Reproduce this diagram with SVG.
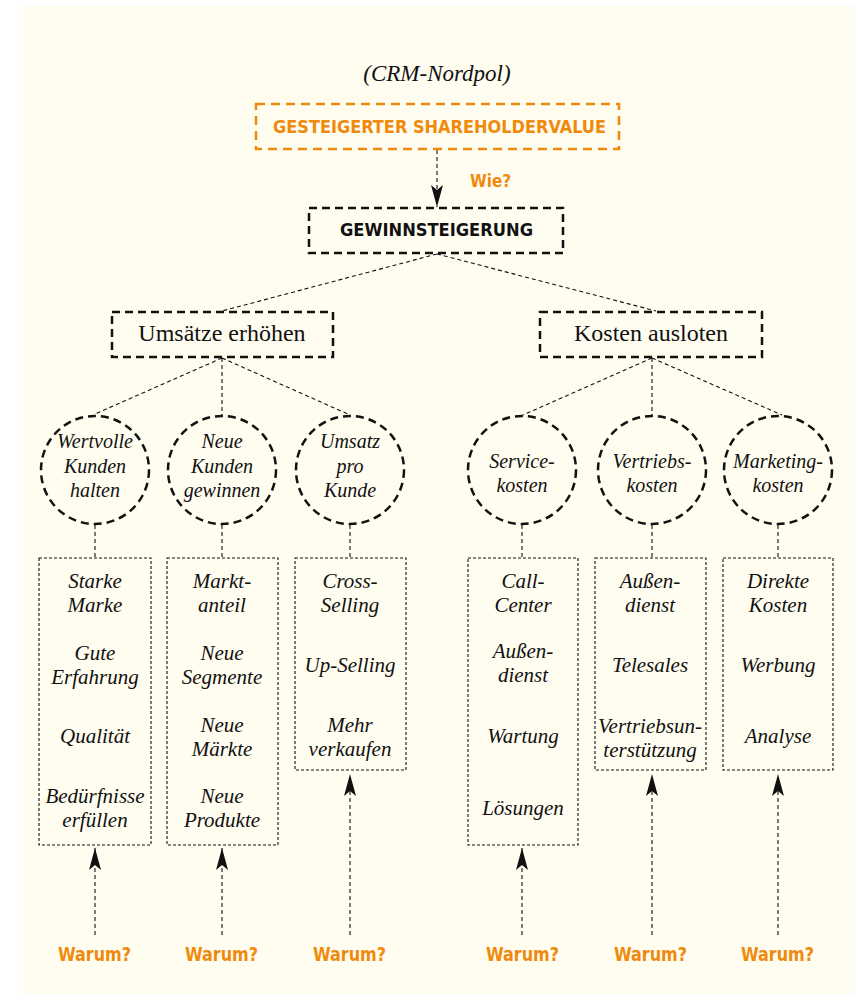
<svg xmlns="http://www.w3.org/2000/svg" width="855" height="996" viewBox="0 0 855 996">
<style>
.bg{fill:#FFFDF0}
.thick{fill:none;stroke:#111;stroke-width:2.5;stroke-dasharray:8 5}
.orange{fill:none;stroke:#F08A0C;stroke-width:2.5;stroke-dasharray:9 6}
.thin{fill:none;stroke:#111;stroke-width:1.1;stroke-dasharray:3 2}
.con{fill:none;stroke:#111;stroke-width:1.1;stroke-dasharray:4 3}
.cond{font-family:"Liberation Sans Narrow","DejaVu Sans Condensed","Roboto",sans-serif;font-weight:bold}
.serif{font-family:"Liberation Serif","DejaVu Serif",serif;fill:#111}
.it{font-family:"Liberation Serif","DejaVu Serif",serif;font-style:italic;font-size:21px;fill:#111;text-anchor:middle}
.ci{font-size:20px}
.or{fill:#F08A0C}
</style>
<defs>
<marker id="ah" markerUnits="userSpaceOnUse" viewBox="0 0 22 12" refX="22" refY="6" markerWidth="22" markerHeight="12" orient="auto">
<path d="M0,0 L22,6 L0,12 L5,6 z" fill="#111"/>
</marker>
</defs>
<rect class="bg" x="23" y="6" width="832" height="988"/>
<text class="serif" x="437" y="81" font-size="23" font-style="italic" text-anchor="middle">(CRM-Nordpol)</text>

<g id="connectors">
<line class="con" x1="437" y1="150" x2="437" y2="207" marker-end="url(#ah)"/>
<line class="con" x1="437" y1="254" x2="222" y2="311"/>
<line class="con" x1="437" y1="254" x2="656" y2="311"/>
<line class="con" x1="222" y1="358" x2="95" y2="414"/>
<line class="con" x1="222" y1="358" x2="222" y2="416"/>
<line class="con" x1="222" y1="358" x2="350" y2="415"/>
<line class="con" x1="652" y1="358" x2="523" y2="415"/>
<line class="con" x1="652" y1="358" x2="652" y2="416"/>
<line class="con" x1="652" y1="358" x2="782" y2="415"/>
<line class="con" x1="95" y1="525" x2="95" y2="558"/>
<line class="con" x1="222" y1="525" x2="222" y2="558"/>
<line class="con" x1="350" y1="525" x2="350" y2="558"/>
<line class="con" x1="522" y1="525" x2="522" y2="558"/>
<line class="con" x1="652" y1="525" x2="652" y2="558"/>
<line class="con" x1="778" y1="525" x2="778" y2="558"/>
<line class="con" x1="95" y1="935" x2="95" y2="848" marker-end="url(#ah)"/>
<line class="con" x1="222" y1="935" x2="222" y2="848" marker-end="url(#ah)"/>
<line class="con" x1="350" y1="935" x2="350" y2="774" marker-end="url(#ah)"/>
<line class="con" x1="522" y1="935" x2="522" y2="848" marker-end="url(#ah)"/>
<line class="con" x1="652" y1="935" x2="652" y2="774" marker-end="url(#ah)"/>
<line class="con" x1="778" y1="935" x2="778" y2="774" marker-end="url(#ah)"/>
</g>

<g id="shareholder">
<rect class="orange" x="256" y="104" width="363" height="45"/>
<text class="cond or" x="273" y="133" font-size="18" textLength="333" lengthAdjust="spacingAndGlyphs">GESTEIGERTER SHAREHOLDERVALUE</text>
</g>
<g id="wie"><text class="cond or" x="470" y="187" font-size="18" textLength="41" lengthAdjust="spacingAndGlyphs">Wie?</text></g>

<g id="gewinn">
<rect class="thick" x="309" y="208" width="254" height="45"/>
<text class="cond" x="340" y="236" font-size="18" fill="#111" textLength="193" lengthAdjust="spacingAndGlyphs">GEWINNSTEIGERUNG</text>
</g>

<g id="umsaetze">
<rect class="thick" x="112" y="312" width="221" height="45"/>
<text class="serif" x="222" y="341" font-size="24" text-anchor="middle">Umsätze erhöhen</text>
</g>
<g id="kosten">
<rect class="thick" x="540" y="312" width="222" height="45"/>
<text class="serif" x="651" y="341" font-size="24" text-anchor="middle">Kosten ausloten</text>
</g>

<g id="c1"><circle class="thick" cx="95" cy="470" r="54"/>
<text class="it ci" x="95" y="448">Wertvolle</text><text class="it ci" x="95" y="473">Kunden</text><text class="it ci" x="95" y="497">halten</text></g>
<g id="c2"><circle class="thick" cx="222" cy="470" r="54"/>
<text class="it ci" x="222" y="448">Neue</text><text class="it ci" x="222" y="473">Kunden</text><text class="it ci" x="222" y="497">gewinnen</text></g>
<g id="c3"><circle class="thick" cx="350" cy="470" r="54"/>
<text class="it ci" x="350" y="448">Umsatz</text><text class="it ci" x="350" y="473">pro</text><text class="it ci" x="350" y="497">Kunde</text></g>
<g id="c4"><circle class="thick" cx="522" cy="470" r="54"/>
<text class="it ci" x="522" y="468">Service-</text><text class="it ci" x="522" y="492">kosten</text></g>
<g id="c5"><circle class="thick" cx="652" cy="470" r="54"/>
<text class="it ci" x="652" y="468">Vertriebs-</text><text class="it ci" x="652" y="492">kosten</text></g>
<g id="c6"><circle class="thick" cx="778" cy="470" r="54"/>
<text class="it ci" x="778" y="468">Marketing-</text><text class="it ci" x="778" y="492">kosten</text></g>

<g id="b1"><rect class="thin" x="39" y="558" width="112" height="287"/>
<text class="it" x="95" y="588">Starke</text><text class="it" x="95" y="612">Marke</text>
<text class="it" x="95" y="660">Gute</text><text class="it" x="95" y="684">Erfahrung</text>
<text class="it" x="95" y="743">Qualität</text>
<text class="it" x="95" y="803">Bedürfnisse</text><text class="it" x="95" y="827">erfüllen</text></g>
<g id="b2"><rect class="thin" x="167" y="558" width="111" height="287"/>
<text class="it" x="222" y="588">Markt-</text><text class="it" x="222" y="612">anteil</text>
<text class="it" x="222" y="660">Neue</text><text class="it" x="222" y="684">Segmente</text>
<text class="it" x="222" y="732">Neue</text><text class="it" x="222" y="756">Märkte</text>
<text class="it" x="222" y="803">Neue</text><text class="it" x="222" y="827">Produkte</text></g>
<g id="b3"><rect class="thin" x="295" y="558" width="111" height="212"/>
<text class="it" x="350" y="588">Cross-</text><text class="it" x="350" y="612">Selling</text>
<text class="it" x="350" y="672">Up-Selling</text>
<text class="it" x="350" y="732">Mehr</text><text class="it" x="350" y="756">verkaufen</text></g>
<g id="b4"><rect class="thin" x="468" y="558" width="110" height="287"/>
<text class="it" x="523" y="588">Call-</text><text class="it" x="523" y="612">Center</text>
<text class="it" x="523" y="658">Außen-</text><text class="it" x="523" y="682">dienst</text>
<text class="it" x="523" y="743">Wartung</text>
<text class="it" x="523" y="815">Lösungen</text></g>
<g id="b5"><rect class="thin" x="595" y="558" width="111" height="212"/>
<text class="it" x="650" y="588">Außen-</text><text class="it" x="650" y="612">dienst</text>
<text class="it" x="650" y="672">Telesales</text>
<text class="it" x="650" y="733">Vertriebsun-</text><text class="it" x="650" y="757">terstützung</text></g>
<g id="b6"><rect class="thin" x="723" y="558" width="110" height="212"/>
<text class="it" x="778" y="588">Direkte</text><text class="it" x="778" y="612">Kosten</text>
<text class="it" x="778" y="672">Werbung</text>
<text class="it" x="778" y="743">Analyse</text></g>

<g id="warum" class="cond or" font-size="19">
<text x="58" y="961" textLength="73" lengthAdjust="spacingAndGlyphs">Warum?</text>
<text x="185" y="961" textLength="73" lengthAdjust="spacingAndGlyphs">Warum?</text>
<text x="313" y="961" textLength="73" lengthAdjust="spacingAndGlyphs">Warum?</text>
<text x="486" y="961" textLength="73" lengthAdjust="spacingAndGlyphs">Warum?</text>
<text x="614" y="961" textLength="73" lengthAdjust="spacingAndGlyphs">Warum?</text>
<text x="741" y="961" textLength="73" lengthAdjust="spacingAndGlyphs">Warum?</text>
</g>
</svg>
